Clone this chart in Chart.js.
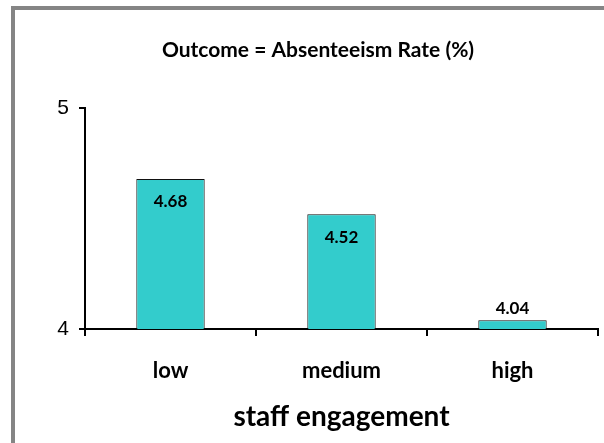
<!DOCTYPE html>
<html><head><meta charset="utf-8">
<script src="https://cdn.jsdelivr.net/npm/chart.js@4"></script>
<style>
html,body{margin:0;padding:0;background:#fff;overflow:hidden;width:604px;height:443px}
#frame{position:absolute;left:11px;top:6px;width:700px;height:500px;border-left:4px solid #858585;border-top:4px solid #858585}
canvas{position:absolute;left:0;top:0}
</style></head><body>
<div id="frame"></div>
<canvas id="c" width="604" height="443"></canvas>
<script>
const categories = ['low', 'medium', 'high'];
const absenteeismRate = [4.68, 4.52, 4.04];
const yTickValues = [4, 5];
const chartTitle = 'Outcome = Absenteeism Rate (%)';
const xAxisTitle = 'staff engagement';

const barLabels = {
  id: 'barLabels',
  afterDatasetsDraw(chart) {
    const ctx = chart.ctx;
    const meta = chart.getDatasetMeta(0);
    const bottom = chart.chartArea.bottom;
    ctx.save();
    ctx.font = 'bold 17px Lato';
    ctx.fillStyle = '#000';
    ctx.textAlign = 'center';
    ctx.textBaseline = 'middle';
    meta.data.forEach((bar, i) => {
      const v = chart.data.datasets[0].data[i];
      const h = bottom - bar.y;
      const y = h > 40 ? bar.y + 23 : bar.y - 12;
      ctx.fillText(v.toFixed(2), bar.x, y);
    });
    ctx.restore();
  }
};

new Chart(document.getElementById('c'), {
  type: 'bar',
  data: {
    labels: categories,
    datasets: [{
      data: absenteeismRate,
      backgroundColor: '#33CCCC',
      borderColor: '#111',
      borderWidth: 1,
      barPercentage: 0.4,
      categoryPercentage: 1.0
    }]
  },
  options: {
    responsive: false,
    devicePixelRatio: 1,
    animation: false,
    layout: { padding: { left: 38, right: 6, top: 0, bottom: 0 } },
    plugins: {
      legend: { display: false },
      tooltip: { enabled: false },
      title: {
        display: true,
        text: chartTitle,
        color: '#000',
        font: { family: 'Lato', weight: 'bold', size: 21 },
        padding: { top: 37.4, bottom: 45.7 }
      }
    },
    scales: {
      x: {
        afterFit: s => { s.height = 114; },
        grid: { display: true, drawOnChartArea: false, offset: true, tickLength: 7, tickColor: '#000', lineWidth: 2 },
        border: { display: true, color: '#000', width: 2 },
        ticks: { color: '#000', font: { family: 'Lato', weight: 'bold', size: 22 }, padding: 22 },
        title: {
          display: true,
          text: xAxisTitle,
          color: '#000',
          font: { family: 'Lato', weight: 'bold', size: 28 },
          padding: { top: 0, bottom: 9 }
        }
      },
      y: {
        min: 4,
        max: 5,
        afterFit: s => { s.width = 47; },
        afterBuildTicks: s => { s.ticks = yTickValues.map(v => ({ value: v })); },
        grid: { display: true, drawOnChartArea: false, tickLength: 6, tickColor: '#000', lineWidth: 2 },
        border: { display: true, color: '#000', width: 2 },
        ticks: { color: '#000', font: { family: 'Liberation Sans', size: 21 }, padding: 10 }
      }
    }
  },
  plugins: [barLabels]
});
</script>
</body></html>
